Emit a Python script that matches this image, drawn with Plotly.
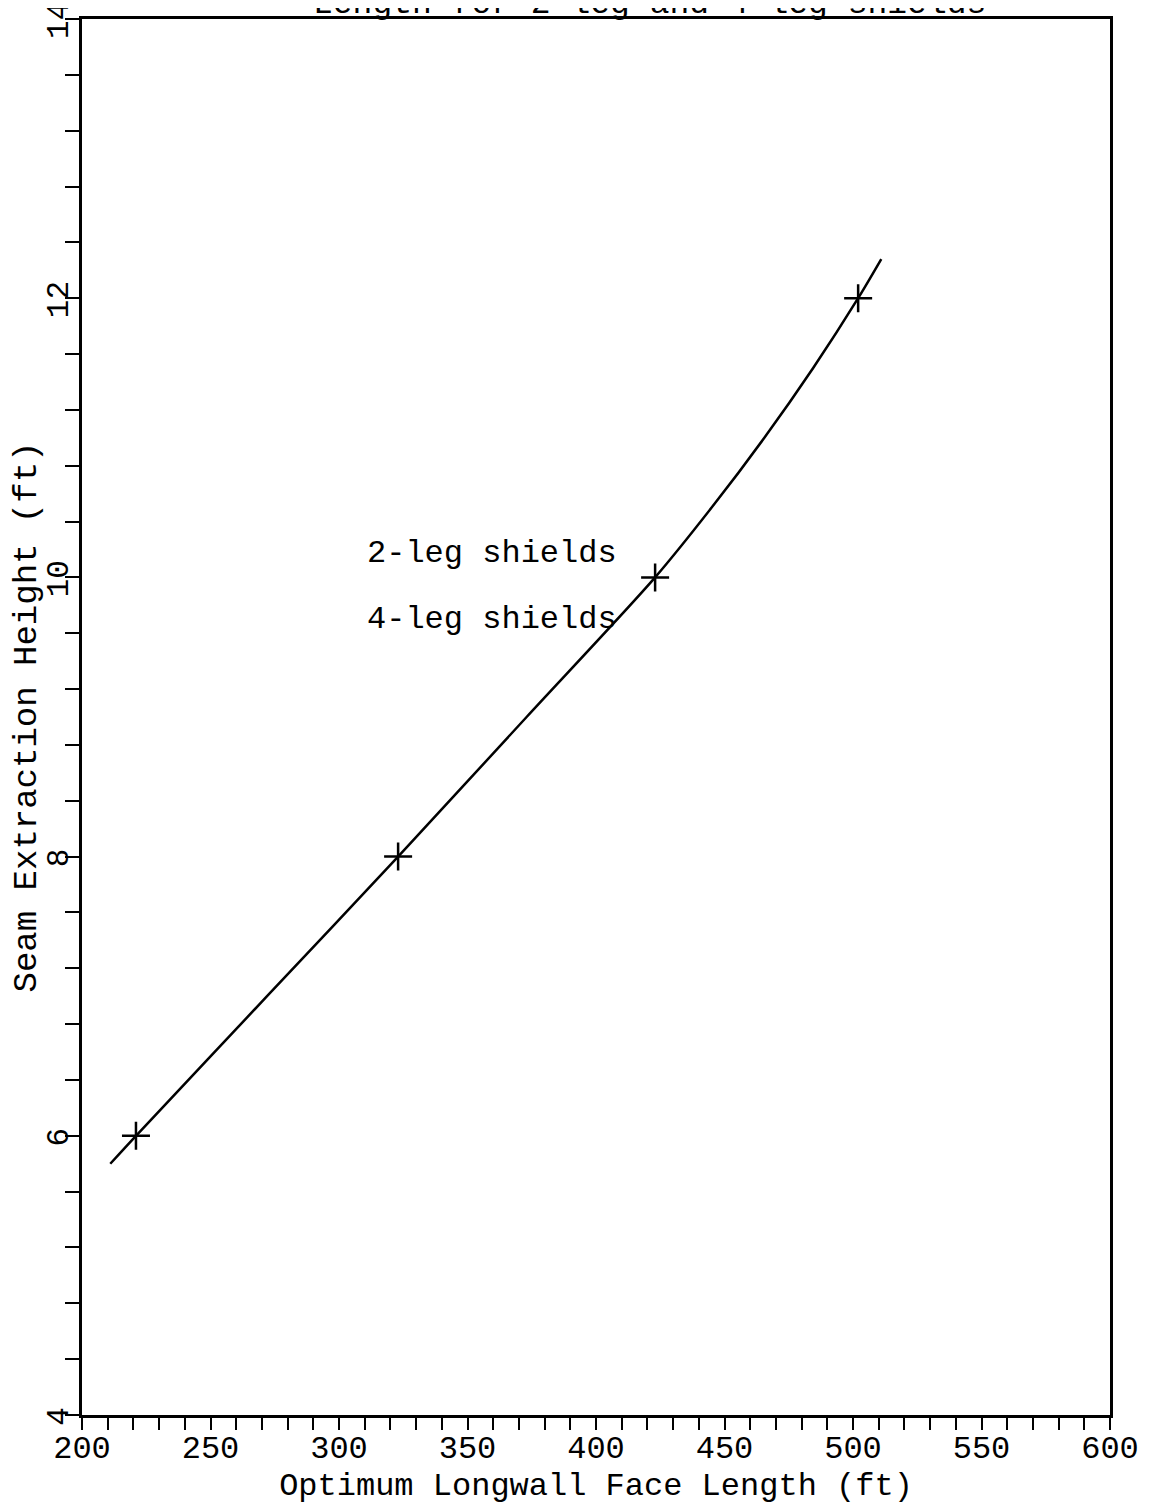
import plotly.graph_objects as go

# Data
point_x = [221, 323, 423, 502]
point_y = [6, 8, 10, 12]

curve_x = [211, 221, 272, 323, 373, 423, 445, 465.5, 484.5, 502, 511]
curve_y = [5.8, 6.0, 7.0, 8.0, 9.0, 10.0, 10.5, 11.0, 11.5, 12.0, 12.28]

x_ticks = [200, 250, 300, 350, 400, 450, 500, 550, 600]
y_ticks = [4, 6, 8, 10, 12, 14]

title_text = "Length for 2-leg and 4-leg shields"
x_title = "Optimum Longwall Face Length (ft)"
y_title = "Seam Extraction Height (ft)"
labels = ["2-leg shields", "4-leg shields"]
label_x = [310, 310]
label_y = [10.17, 9.70]

FONT = "Liberation Mono, Courier New, monospace"

fig = go.Figure()
fig.add_trace(go.Scatter(x=curve_x, y=curve_y, mode="lines",
                         line=dict(color="black", width=2.5, shape="spline", smoothing=0.8),
                         showlegend=False, hoverinfo="skip"))
fig.add_trace(go.Scatter(x=point_x, y=point_y, mode="markers",
                         marker=dict(symbol="cross-thin", size=20, line=dict(color="black", width=2.5)),
                         showlegend=False))

for t, lx, ly in zip(labels, label_x, label_y):
    fig.add_annotation(x=lx, y=ly, xref="x", yref="y", text=t, showarrow=False,
                       xanchor="left", yanchor="middle",
                       font=dict(family=FONT, size=32, color="black"))

fig.add_annotation(x=0.5525, y=1, xref="paper", yref="paper", text=title_text,
                   showarrow=False, xanchor="center", yanchor="middle", yshift=15,
                   font=dict(family=FONT, size=33, color="black"))

fig.update_xaxes(range=[200, 600], tickvals=x_ticks, ticktext=[str(v) for v in x_ticks],
                 ticks="outside", ticklen=12, tickwidth=2, tickcolor="black",
                 ticklabelstandoff=-10,
                 minor=dict(dtick=10, ticks="outside", ticklen=12, tickwidth=2, tickcolor="black"),
                 showline=True, linecolor="black", linewidth=3, mirror=True,
                 showgrid=False, zeroline=False, automargin=False,
                 tickfont=dict(family=FONT, size=32, color="black"),
                 title=dict(text=x_title, font=dict(family=FONT, size=32, color="black"), standoff=0))
fig.update_yaxes(range=[4, 14], tickvals=y_ticks, ticktext=[str(v) for v in y_ticks],
                 tickangle=-90, ticklabeloverflow="allow", ticklabelstandoff=-15,
                 ticklabelshift=6,
                 ticks="outside", ticklen=14, tickwidth=2, tickcolor="black",
                 minor=dict(dtick=0.4, tick0=4, ticks="outside", ticklen=14, tickwidth=2, tickcolor="black"),
                 showline=True, linecolor="black", linewidth=3, mirror=True,
                 showgrid=False, zeroline=False, automargin=False,
                 tickfont=dict(family=FONT, size=31, color="black"),
                 title=dict(text=y_title, font=dict(family=FONT, size=34, color="black"), standoff=4))

fig.update_layout(width=1153, height=1504, paper_bgcolor="white", plot_bgcolor="white",
                  margin=dict(l=74, r=51, t=11, b=97))

fig.write_html("out.html")
